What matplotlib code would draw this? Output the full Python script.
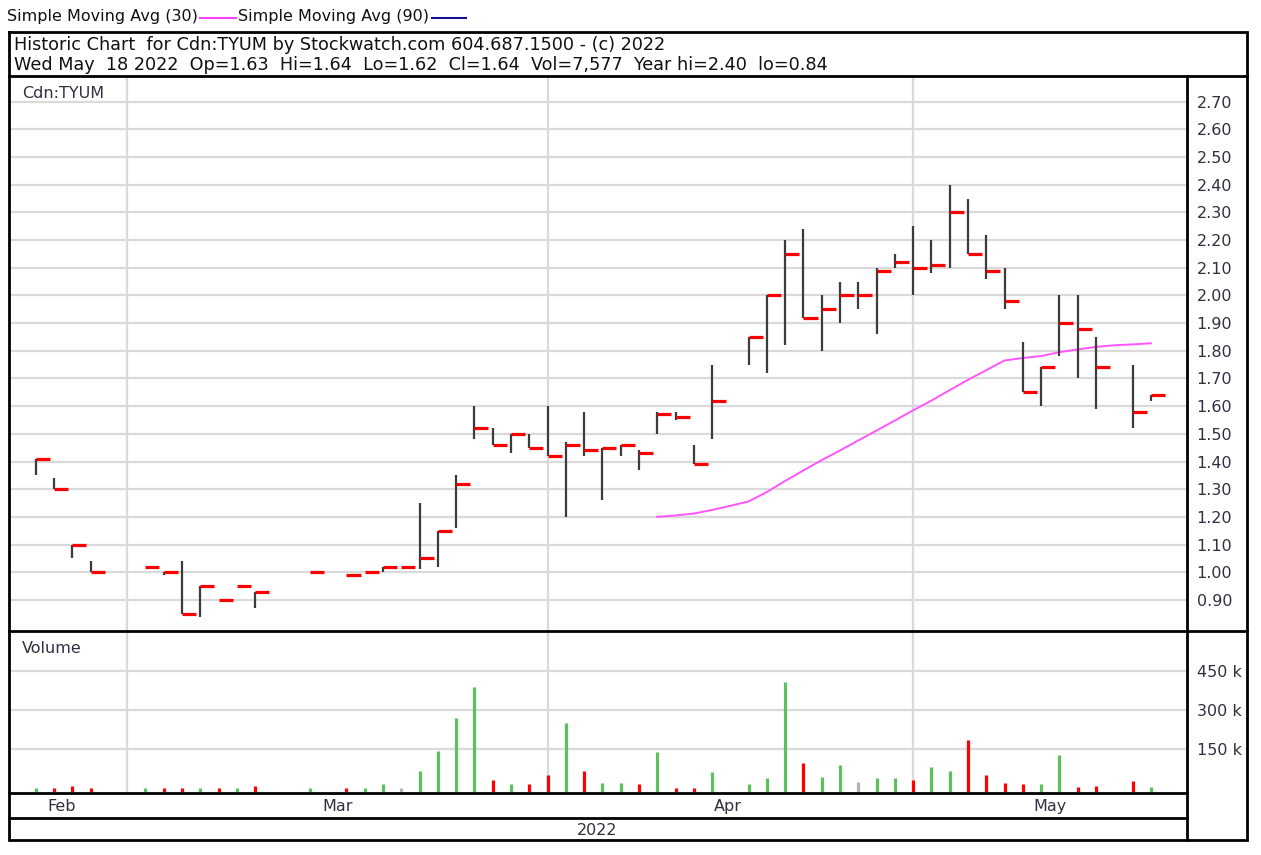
import matplotlib
matplotlib.use('Agg')
import matplotlib.pyplot as plt

plt.rcParams['font.family'] = ['DejaVu Sans']

# ---------------- data ----------------
day = [0, 1, 2, 3, 6, 7, 8, 9, 10, 11, 12, 15, 17, 18, 19, 20,
       21, 22, 23, 24, 25, 26, 27, 28, 29, 30, 31, 32, 33, 34, 35, 36, 37,
       39, 40, 41, 42, 43, 44, 45, 46, 47, 48, 49, 50, 51, 52, 53, 54, 55,
       56, 57, 58, 60, 61]
high = [1.41, 1.34, 1.10, 1.04, 1.02, 1.00, 1.04, 0.95, 0.90, 0.95, 0.93, 1.00, 0.99, 1.00, 1.02, 1.02,
        1.25, 1.15, 1.35, 1.60, 1.52, 1.50, 1.50, 1.60, 1.47, 1.58, 1.45, 1.46, 1.44, 1.58, 1.58, 1.46, 1.75,
        1.85, 2.00, 2.20, 2.24, 2.00, 2.05, 2.05, 2.10, 2.15, 2.25, 2.20, 2.40, 2.35, 2.22, 2.10, 1.83, 1.74,
        2.00, 2.00, 1.85, 1.75, 1.64]
low = [1.35, 1.30, 1.05, 1.00, 1.02, 0.99, 0.85, 0.84, 0.90, 0.95, 0.87, 1.00, 0.99, 1.00, 1.00, 1.02,
       1.01, 1.02, 1.16, 1.48, 1.46, 1.43, 1.45, 1.42, 1.20, 1.42, 1.26, 1.42, 1.37, 1.50, 1.55, 1.39, 1.48,
       1.75, 1.72, 1.82, 1.92, 1.80, 1.90, 1.95, 1.86, 2.10, 2.00, 2.08, 2.10, 2.15, 2.06, 1.95, 1.65, 1.60,
       1.78, 1.70, 1.59, 1.52, 1.62]
close = [1.41, 1.30, 1.10, 1.00, 1.02, 1.00, 0.85, 0.95, 0.90, 0.95, 0.93, 1.00, 0.99, 1.00, 1.02, 1.02,
         1.05, 1.15, 1.32, 1.52, 1.46, 1.50, 1.45, 1.42, 1.46, 1.44, 1.45, 1.46, 1.43, 1.57, 1.56, 1.39, 1.62,
         1.85, 2.00, 2.15, 1.92, 1.95, 2.00, 2.00, 2.09, 2.12, 2.10, 2.11, 2.30, 2.15, 2.09, 1.98, 1.65, 1.74,
         1.90, 1.88, 1.74, 1.58, 1.64]
volume = [4000, 4000, 10000, 1000, 1000, 4000, 1000, 1000, 1000, 1000, 10000, 1000, 1000, 1000, 17000, 500,
          68000, 143000, 269000, 389000, 33000, 16000, 16000, 52000, 249000, 68000, 21000, 21000, 17000, 138000,
          4000, 4000, 63000,
          16000, 39000, 408000, 98000, 46000, 91000, 27000, 39000, 39000, 33000, 81000, 68000, 184000, 52000,
          22000, 17000, 16000, 128000, 7000, 10000, 29000, 7577]

sma_day = [34, 35, 36, 37, 38, 39, 40, 41, 42, 43, 44, 45, 46, 47,
           48, 49, 50, 51, 52, 53, 54, 55, 56, 57, 58, 59, 60, 61]
sma30 = [1.200, 1.205, 1.212, 1.225, 1.240, 1.256, 1.290, 1.330, 1.368, 1.405, 1.440, 1.476, 1.512, 1.548,
         1.585, 1.620, 1.658, 1.695, 1.730, 1.765, 1.774, 1.781, 1.795, 1.805, 1.814, 1.820, 1.823, 1.827]

price_ticks = [0.90, 1.00, 1.10, 1.20, 1.30, 1.40, 1.50, 1.60, 1.70, 1.80,
               1.90, 2.00, 2.10, 2.20, 2.30, 2.40, 2.50, 2.60, 2.70]
vol_ticks = [150000, 300000, 450000]
vol_tick_labels = ['150 k', '300 k', '450 k']
month_labels = ['Feb', 'Mar', 'Apr', 'May']
month_label_day = [1.44, 16.54, 37.87, 55.49]
month_start_day = [5, 28, 48]
year_label = '2022'
symbol = 'Cdn:TYUM'
legend_labels = ['Simple Moving Avg (30)', 'Simple Moving Avg (90)']
header_lines = ['Historic Chart  for Cdn:TYUM by Stockwatch.com 604.687.1500 - (c) 2022',
                'Wed May  18 2022  Op=1.63  Hi=1.64  Lo=1.62  Cl=1.64  Vol=7,577  Year hi=2.40  lo=0.84']

# ---------------- layout ----------------
W, H = 1261, 855
fig = plt.figure(figsize=(W / 100, H / 100), dpi=100)
fig.patch.set_facecolor('white')


def rect(l, t, r, b):
    return [l / W, 1 - b / H, (r - l) / W, (b - t) / H]


X0, DX = 35.7, 18.28
LEFT, RIGHT = 11, 1187
XLIM = ((LEFT - X0) / DX, (RIGHT - X0) / DX)

GRID = '#dadada'
TXT = '#303040'
FS = 11.5
HFS = 12.7
RED = '#ff0000'
GREEN = '#5cc05c'
GREY = '#b4b4b4'

# price panel
axp = fig.add_axes(rect(LEFT, 77, RIGHT, 630))
axp.set_xlim(*XLIM)
axp.set_ylim(0.7914, 2.789)
for s in axp.spines.values():
    s.set_visible(False)
axp.set_xticks([])
axp.set_yticks(price_ticks, [f'{v:.2f}' for v in price_ticks])
axp.yaxis.tick_right()
axp.tick_params(axis='y', length=0, pad=7, labelsize=FS, labelcolor=TXT)
axp.grid(axis='y', color=GRID, lw=1.6, zorder=0)
axp.set_axisbelow(True)
for d in month_start_day:
    axp.axvline(d, color=GRID, lw=1.6, zorder=0)
axp.vlines(day, low, high, colors='#3c3c3c', lw=1.6, zorder=3)
axp.hlines(close, [d for d in day], [d + 0.77 for d in day], colors=RED, lw=2.3, zorder=4)
axp.plot(sma_day, sma30, color='#ff55ff', lw=1.4, zorder=2)
axp.text(11 / 1176, 0.97, symbol, transform=axp.transAxes, ha='left', va='center',
         fontsize=FS, color=TXT)

# volume panel
VBOT = -13000
axv = fig.add_axes(rect(LEFT, 631, RIGHT, 792))
axv.set_xlim(*XLIM)
axv.set_ylim(VBOT, 601600)
for s in axv.spines.values():
    s.set_visible(False)
axv.set_xticks([])
axv.set_yticks(vol_ticks, vol_tick_labels)
axv.yaxis.tick_right()
axv.tick_params(axis='y', length=0, pad=7, labelsize=FS, labelcolor=TXT)
axv.grid(axis='y', color=GRID, lw=1.6, zorder=0)
axv.set_axisbelow(True)
for d in month_start_day:
    axv.axvline(d, color=GRID, lw=1.6, zorder=0)
vcolors = []
for i, c in enumerate(close):
    if i == 0 or c > close[i - 1]:
        vcolors.append(GREEN)
    elif c < close[i - 1]:
        vcolors.append(RED)
    else:
        vcolors.append(GREY)
axv.vlines(day, VBOT, volume, colors=vcolors, lw=2.3, zorder=3)
axv.text(11 / 1176, 0.89, 'Volume', transform=axv.transAxes, ha='left', va='center',
         fontsize=FS, color=TXT)

# month row
axm = fig.add_axes(rect(LEFT, 792, RIGHT, 818))
axm.set_xlim(*XLIM)
axm.set_ylim(0, 1)
axm.axis('off')
for p, lab in zip(month_label_day, month_labels):
    axm.text(p, 0.45, lab, ha='center', va='center', fontsize=FS, color=TXT)

# year row
axy = fig.add_axes(rect(LEFT, 818, RIGHT, 840))
axy.set_xlim(0, 1)
axy.set_ylim(0, 1)
axy.axis('off')
axy.text((597 - LEFT) / (RIGHT - LEFT), 0.45, year_label, ha='center', va='center',
         fontsize=FS, color=TXT)

# overlay for frames, header and legend
axo = fig.add_axes([0, 0, 1, 1], zorder=10)
axo.set_xlim(0, W)
axo.set_ylim(H, 0)
axo.axis('off')
axo.patch.set_alpha(0)
LW = 2.0
axo.plot([9, 1247, 1247, 9, 9], [32, 32, 840, 840, 32], color='black', lw=LW, solid_joinstyle='miter')
axo.plot([9, 1247], [76.5, 76.5], color='black', lw=LW)
axo.plot([9, 1247], [630.5, 630.5], color='black', lw=LW)
axo.plot([9, 1187], [792.5, 792.5], color='black', lw=LW)
axo.plot([9, 1187], [818, 818], color='black', lw=LW)
axo.plot([1187, 1187], [76.5, 840], color='black', lw=LW)

axo.text(14, 45, header_lines[0], ha='left', va='center', fontsize=HFS, color='#111111')
axo.text(14, 65, header_lines[1], ha='left', va='center', fontsize=HFS, color='#111111')

axo.text(7, 17, legend_labels[0], ha='left', va='center', fontsize=FS, color='#111111')
axo.plot([200, 236], [18, 18], color='#ff40ff', lw=1.5)
axo.text(238, 17, legend_labels[1], ha='left', va='center', fontsize=FS, color='#111111')
axo.plot([432, 466], [18, 18], color='#101090', lw=1.5)

fig.savefig('out.png', dpi=100, facecolor='white')
